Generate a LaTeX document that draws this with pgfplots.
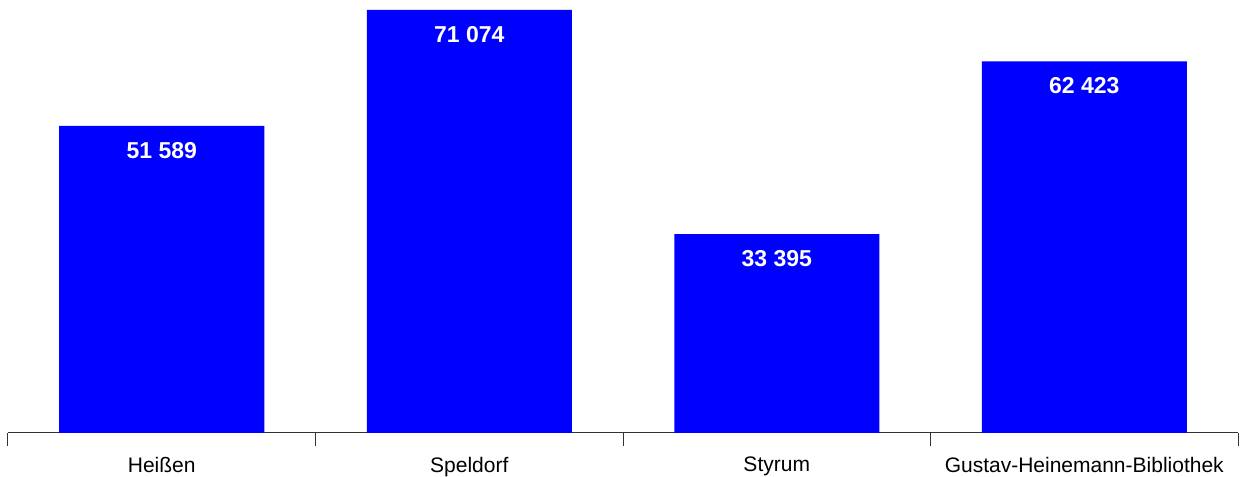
\documentclass[border=0pt]{standalone}
\usepackage{fontspec}
\setmainfont{Liberation Sans}
\usepackage{pgfplots}
\pgfplotsset{compat=1.18}
\definecolor{barblue}{RGB}{0,0,255}
\definecolor{axisgray}{RGB}{50,50,50}
\begin{document}
\begin{tikzpicture}[x=0.75pt,y=0.75pt]
\begin{axis}[
  at={(0,0)}, anchor=south west,
  scale only axis, width=922.5pt, height=324.75pt,
  xmin=-0.5, xmax=3.5, ymin=0, ymax=72754,
  clip=false,
  axis x line*=bottom, hide y axis,
  x axis line style={axisgray, line width=0.75pt},
  xtick={0,1,2,3},
  xticklabels={Heißen,Speldorf,Styrum,Gustav-Heinemann-Bibliothek},
  major tick length=0pt,
  minor xtick={-0.5,0.5,1.5,2.5,3.5},
  minor tick length=9.75pt,
  xtick align=center,
  every tick/.style={axisgray, line width=0.75pt},
  xticklabel style={font=\fontsize{15.75}{18}\selectfont, anchor=north, inner sep=0pt, yshift=-18pt},
  ybar, bar width=153.75pt,
  nodes near coords, point meta=explicit symbolic,
  every node near coord/.append style={font=\fontsize{17.25}{20}\bfseries\selectfont, text=white, anchor=north, inner sep=0pt, yshift=-12pt},
]
% Ausleihen je Bibliothek
\addplot[fill=barblue, draw=none] coordinates {
  (0,51589) [51 589]
  (1,71074) [71 074]
  (2,33395) [33 395]
  (3,62423) [62 423]
};
\end{axis}
% page frame: 1247 x 477 px, axis origin at (8,44) px from bottom left
\path (-8,-44) rectangle (1239,433);
\end{tikzpicture}
\end{document}
